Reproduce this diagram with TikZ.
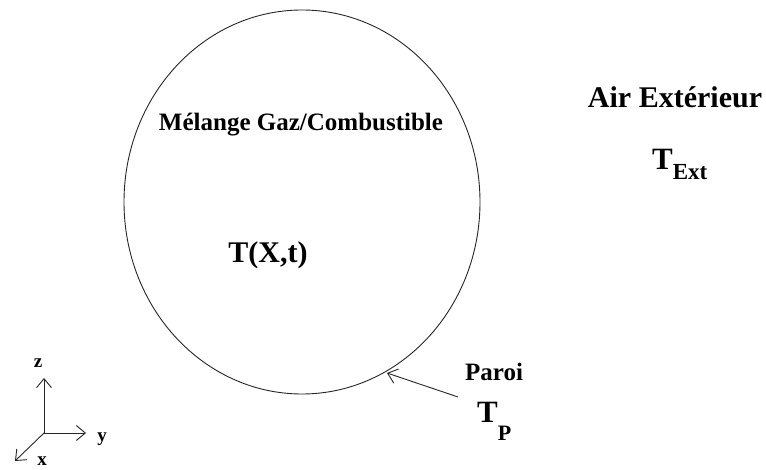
\documentclass[tikz,border=0pt]{standalone}
\usepackage{fontspec}
\setmainfont{Liberation Serif}
\usetikzlibrary{arrows.meta}
\begin{document}
\begin{tikzpicture}[x=1pt,y=-1pt,
  lbl/.style={inner sep=0pt, anchor=base, font=\bfseries},
  axl/.style={lbl, font=\bfseries\fontsize{19}{19}\selectfont},
  ln/.style={line width=0.9pt, draw=black!85},
  barb/.style={-{Straight Barb[length=9pt,width=15pt,line width=0.9pt]}}]
\useasboundingbox (0,0) rectangle (766,470);
% vessel
\draw[ln] (302,202) ellipse [x radius=178, y radius=192];
\coordinate (wall) at (387,373);
\coordinate (tail) at (458,397);
\node[lbl, font=\bfseries\fontsize{25}{25}\selectfont] (mel) at (301,131) {Mélange Gaz/Combustible};
\node[lbl, font=\bfseries\fontsize{30}{30}\selectfont] (txt) at (268,263) {T(X,t)};
\node[lbl, font=\bfseries\fontsize{30}{30}\selectfont] (air) at (675,108) {Air Extérieur};
\node[lbl, anchor=base west] (text) at (652,170) {{\fontsize{31}{31}\selectfont T}\raisebox{-10pt}{\fontsize{23}{23}\selectfont Ext}};
\node[lbl, anchor=base west, font=\bfseries\fontsize{25}{25}\selectfont] (paroi) at (465,381) {Paroi};
\node[lbl, anchor=base west] (tp) at (477,422) {{\fontsize{31}{31}\selectfont T}\raisebox{-18pt}{\fontsize{22}{22}\selectfont P}};
\draw[ln, barb] (tail) -- (wall);
% axes
\coordinate (o) at (44,433);
\coordinate (ze) at (44,378);
\coordinate (ye) at (86,433);
\coordinate (xe) at (15,461);
\draw[ln, barb] (o) -- (ze);
\draw[ln, barb] (o) -- (ye);
\draw[ln, barb] (o) -- (xe);
\node[axl] (zl) at (38,367) {z};
\node[axl] (yl) at (102,441) {y};
\node[axl] (xl) at (42,465) {x};
\end{tikzpicture}
\end{document}
